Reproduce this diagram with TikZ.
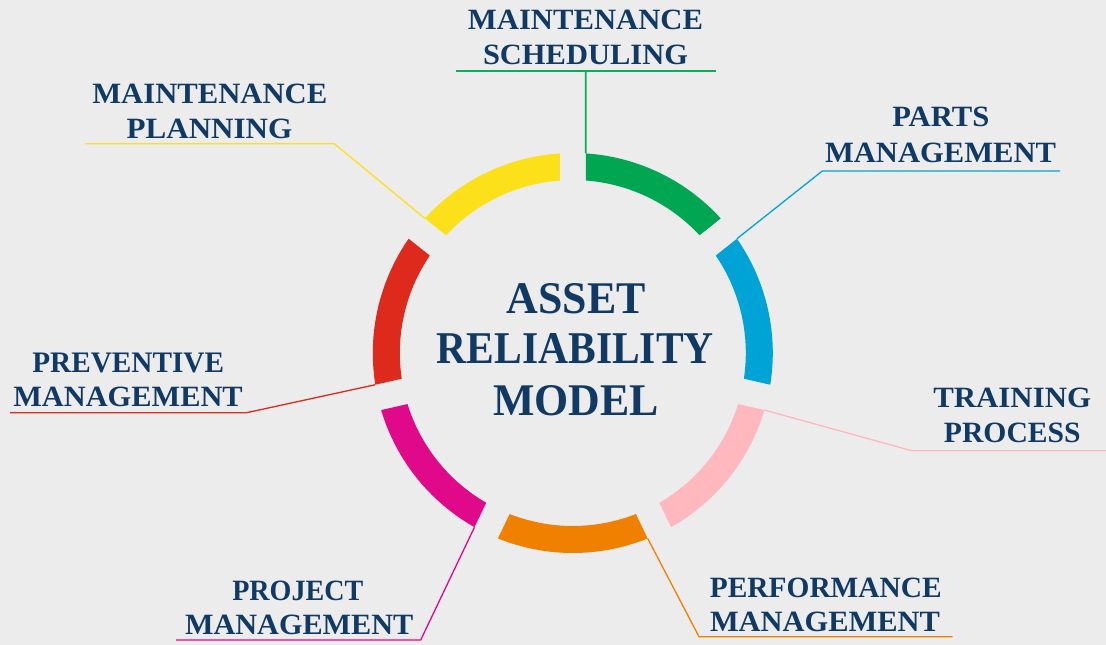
\documentclass[tikz,border=0pt]{standalone}
\usepackage{fontspec}
\setmainfont{Liberation Serif}
\usepackage{graphicx}
\usetikzlibrary{calc}
\definecolor{bg}{HTML}{ECECEC}
\definecolor{navy}{HTML}{103A64}
\definecolor{segGreen}{HTML}{00A651}
\definecolor{lineGreen}{RGB}{0,178,90}
\definecolor{segBlue}{HTML}{00A3D6}
\definecolor{segPink}{HTML}{FFB8BE}
\definecolor{segOrange}{HTML}{F08000}
\definecolor{segMagenta}{HTML}{E0098A}
\definecolor{segRed}{HTML}{DD2A1D}
\definecolor{segYellow}{HTML}{FBE01A}
\newcommand{\fitline}[3]{\resizebox{#1pt}{#2pt}{\bfseries #3}}
\begin{document}
\begin{tikzpicture}[x=1pt,y=1pt,
  lbl/.style={anchor=base, inner sep=0pt, text=navy},
  conn/.style={line width=1.3pt}]
\fill[bg] (0,0) rectangle (1106,645);
\useasboundingbox (0,0) rectangle (1106,645);
\coordinate (c) at (572.8,292);
\pgfmathsetmacro{\Ro}{200}
\pgfmathsetmacro{\Ri}{173}
\pgfmathsetmacro{\dO}{asin(13/200)}
\pgfmathsetmacro{\dI}{asin(13/173)}
\foreach \col [count=\k from 0] in {segGreen,segBlue,segPink,segOrange,segMagenta,segRed,segYellow}{
  \pgfmathsetmacro{\aS}{90-\k*360/7}
  \pgfmathsetmacro{\aE}{\aS-360/7}
  \pgfmathsetmacro{\oS}{\aS-\dO}
  \pgfmathsetmacro{\oE}{\aE+\dO}
  \pgfmathsetmacro{\iS}{\aS-\dI}
  \pgfmathsetmacro{\iE}{\aE+\dI}
  \fill[fill=\col] ($(c)+(\oS:\Ro)$) arc[start angle=\oS, end angle=\oE, radius=\Ro pt]
     -- ($(c)+(\iE:\Ri)$) arc[start angle=\iE, end angle=\iS, radius=\Ri pt] -- cycle;
  \coordinate (s\k S) at ($(c)+(\oS:\Ro)$);
}
% connector coordinates
\coordinate (gL) at (456,573.7);
\coordinate (gR) at (716,573.7);
\coordinate (gK) at (585.8,573.7);
\coordinate (yE) at (334.3,501.3);
\coordinate (yL) at (85.3,501.3);
\coordinate (bE) at (822.3,474);
\coordinate (bR) at (1060,474);
\coordinate (pE) at (911.7,194.3);
\coordinate (pR) at (1106,194.3);
\coordinate (oE) at (699,8.3);
\coordinate (oR) at (952.7,8.3);
\coordinate (mE) at (420.7,5);
\coordinate (mL) at (176,5);
\coordinate (rE) at (246.7,232.3);
\coordinate (rL) at (10,232.3);
% connectors
\draw[conn,draw=segYellow] (s6S) -- (yE) -- (yL);
\draw[conn,draw=segBlue] (s1S) -- (bE) -- (bR);
\draw[conn,draw=segPink] (s2S) -- (pE) -- (pR);
\draw[conn,draw=segOrange] (s3S) -- (oE) -- (oR);
\draw[conn,draw=segMagenta] (s4S) -- (mE) -- (mL);
\draw[conn,draw=segRed] (s5S) -- (rE) -- (rL);
\draw[line width=1.7pt,color=lineGreen] (gL) -- (gR);
\draw[line width=1.7pt,color=lineGreen] (s0S) -- (gK);
% labels
\node[lbl] (ms1) at (585.5,615) {\fitline{235}{19.5}{MAINTENANCE}};
\node[lbl] (ms2) at (585.5,580.7) {\fitline{205}{19.5}{SCHEDULING}};
\node[lbl] (mp1) at (209.8,541.7) {\fitline{235}{19.5}{MAINTENANCE}};
\node[lbl] (mp2) at (209.5,506.7) {\fitline{165.7}{19.5}{PLANNING}};
\node[lbl] (pm1) at (940.8,518.3) {\fitline{97}{19.5}{PARTS}};
\node[lbl] (pm2) at (940.5,482.7) {\fitline{231}{19.5}{MANAGEMENT}};
\node[lbl] (pv1) at (128.2,272.7) {\fitline{191.7}{19.5}{PREVENTIVE}};
\node[lbl] (pv2) at (128,238.3) {\fitline{229.4}{19.5}{MANAGEMENT}};
\node[lbl] (tp1) at (1012.2,237.3) {\fitline{157.7}{19.5}{TRAINING}};
\node[lbl] (tp2) at (1012.3,202.7) {\fitline{136.7}{19.5}{PROCESS}};
\node[lbl] (pj1) at (297.8,44) {\fitline{131}{19.5}{PROJECT}};
\node[lbl] (pj2) at (299.2,10) {\fitline{228.3}{19.5}{MANAGEMENT}};
\node[lbl] (pf1) at (825.8,47.7) {\fitline{231.7}{19.5}{PERFORMANCE}};
\node[lbl] (pf2) at (825,13.3) {\fitline{230}{19.5}{MANAGEMENT}};
% centre
\node[lbl] (t1) at (576.2,331.7) {\fitline{139}{30}{ASSET}};
\node[lbl] (t2) at (575.3,281) {\fitline{277}{30}{RELIABILITY}};
\node[lbl] (t3) at (576.2,229) {\fitline{165.7}{30}{MODEL}};
\end{tikzpicture}
\end{document}
